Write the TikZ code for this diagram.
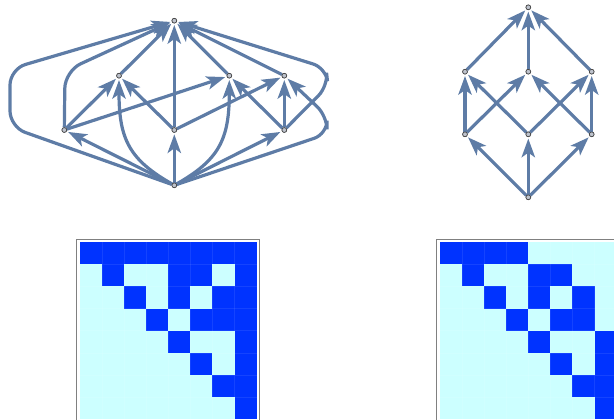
\documentclass[tikz,border=0pt]{standalone}
\usetikzlibrary{arrows.meta}
\definecolor{edgec}{RGB}{94,124,166}
\definecolor{dk}{RGB}{0,51,255}
\definecolor{lt}{RGB}{204,255,255}
\definecolor{vfill}{RGB}{190,195,205}
\begin{document}
\begin{tikzpicture}[x=0.75pt,y=-0.75pt,
  vtx/.style={circle, draw=black!75, fill=vfill, inner sep=0pt, minimum size=3.6pt, line width=0.45pt},
  ed/.style={draw=edgec, line width=2.4pt, -{Stealth[length=14pt,width=10pt,inset=3.5pt]}, shorten >=1.2pt},
  frm/.style={draw=gray, line width=0.9pt}]
\useasboundingbox (0,0) rectangle (614,419);
\clip (0,0) rectangle (614,419);

% ---------- left graph ----------
\node[vtx] (T) at (174.3,20.7) {};
\node[vtx] (A) at (119,75.7) {};
\node[vtx] (B) at (229.3,75.7) {};
\node[vtx] (C) at (284.3,75.7) {};
\node[vtx] (D) at (64.3,130) {};
\node[vtx] (E) at (174.3,130) {};
\node[vtx] (F) at (284.3,130) {};
\node[vtx] (G) at (174.3,185.3) {};

\coordinate (gl1) at (10,127);
\coordinate (gl2) at (10,69);
\coordinate (dl1) at (65,71);
\coordinate (fr1) at (328,86);
\coordinate (fr2) at (326,68);
\coordinate (gr1) at (327,134);
\coordinate (gr2) at (327,116);

\draw[ed, rounded corners=12pt] (G) -- (gl1) -- (gl2) -- (T);
\draw[ed, rounded corners=13pt] (D) -- (dl1) -- (T);
\draw[ed, rounded corners=10pt] (F) -- (fr1) -- (fr2) -- (T);
\draw[ed, rounded corners=10pt] (G) -- (gr1) -- (gr2) -- (C);
\draw[ed] (G) .. controls (130,160) and (119,140) .. (A);
\draw[ed] (G) .. controls (218.6,160) and (229.3,140) .. (B);
\draw[ed] (G) -- (D);
\draw[ed] (G) -- (E);
\draw[ed] (G) -- (F);
\draw[ed] (D) -- (A);
\draw[ed] (D) -- (B);
\draw[ed] (E) -- (A);
\draw[ed] (E) -- (T);
\draw[ed] (E) -- (C);
\draw[ed] (F) -- (B);
\draw[ed] (F) -- (C);
\draw[ed] (A) -- (T);
\draw[ed] (B) -- (T);
\draw[ed] (C) -- (T);
\foreach \n in {T,A,B,C,D,E,F,G} \node[vtx] at (\n) {};

% ---------- right graph ----------
\node[vtx] (R0) at (528.3,7.3) {};
\node[vtx] (M1) at (465,71.7) {};
\node[vtx] (M2) at (528.3,71.7) {};
\node[vtx] (M3) at (591.7,71.7) {};
\node[vtx] (L1) at (465,134.3) {};
\node[vtx] (L2) at (528.3,134.3) {};
\node[vtx] (L3) at (591.7,134.3) {};
\node[vtx] (R7) at (528.3,197.3) {};
\draw[ed] (R7) -- (L1);
\draw[ed] (R7) -- (L2);
\draw[ed] (R7) -- (L3);
\draw[ed] (L1) -- (M1);
\draw[ed] (L1) -- (M2);
\draw[ed] (L2) -- (M1);
\draw[ed] (L2) -- (M3);
\draw[ed] (L3) -- (M2);
\draw[ed] (L3) -- (M3);
\draw[ed] (M1) -- (R0);
\draw[ed] (M2) -- (R0);
\draw[ed] (M3) -- (R0);
\foreach \n in {R0,M1,M2,M3,L1,L2,L3,R7} \node[vtx] at (\n) {};

% ---------- left matrix ----------
\def\cw{22.08}
\fill[lt] (80,242.3) rectangle ++(176.64,176.64);
\foreach \r/\cs in {0/{0,1,2,3,4,5,6,7},1/{1,4,5,7},2/{2,4,6,7},3/{3,5,6,7},4/{4,7},5/{5,7},6/{6,7},7/{7}}
  \foreach \c in \cs
    \fill[dk] ({80+\cw*\c},{242.3+\cw*\r}) rectangle ++(\cw,\cw);
\foreach \i in {1,...,7} {
  \draw[white, opacity=0.08, line width=0.3pt] ({80+\cw*\i},242.3) -- ++(0,176.64);
  \draw[white, opacity=0.08, line width=0.3pt] (80,{242.3+\cw*\i}) -- ++(176.64,0);
}
\draw[frm] (76.5,239.5) rectangle (259.5,430);

% ---------- right matrix ----------
\fill[lt] (440,242.3) rectangle ++(176.64,176.64);
\foreach \r/\cs in {0/{0,1,2,3},1/{1,4,5},2/{2,4,6},3/{3,5,6},4/{4,7},5/{5,7},6/{6,7},7/{7}}
  \foreach \c in \cs
    \fill[dk] ({440+\cw*\c},{242.3+\cw*\r}) rectangle ++(\cw,\cw);
\foreach \i in {1,...,7} {
  \draw[white, opacity=0.08, line width=0.3pt] ({440+\cw*\i},242.3) -- ++(0,176.64);
  \draw[white, opacity=0.08, line width=0.3pt] (440,{242.3+\cw*\i}) -- ++(176.64,0);
}
\draw[frm] (436.5,239.5) rectangle (619.5,430);
\end{tikzpicture}
\end{document}
